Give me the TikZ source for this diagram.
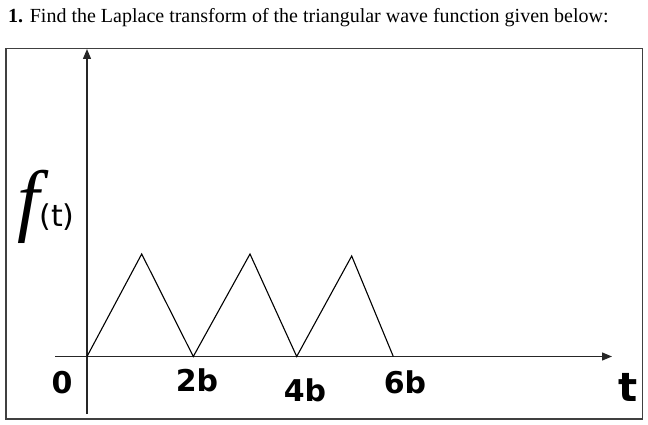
\documentclass[tikz,border=0pt]{standalone}
\usepackage{fontspec}
\setmainfont{Liberation Serif}
\newfontfamily\handfont{DejaVu Sans}
\usetikzlibrary{arrows.meta}
\begin{document}
\begin{tikzpicture}[x=1pt,y=-1pt,
  frame/.style={draw=black!75,line width=1.8pt},
  axis/.style={draw=black!85,line width=1.3pt,-{Triangle[length=10pt,width=8pt]}},
  wave/.style={draw=black,line width=1.1pt,line join=miter},
  hand/.style={font=\handfont\bfseries\fontsize{30}{30}\selectfont,inner sep=0pt}]
\useasboundingbox (0,0) rectangle (648,425);
\node[anchor=base west,inner sep=0pt,font=\fontsize{20}{20}\selectfont] (title) at (8,23) {\textbf{1.} Find the Laplace transform of the triangular wave function given below:};
\draw[frame] (6,48.5) rectangle (642.5,419);
% axes
\coordinate (ybot) at (87,414);
\coordinate (ytop) at (87,49);
\coordinate (xl) at (55,356.5);
\coordinate (xr) at (612,356.5);
\draw[axis] (ybot) -- (ytop);
\draw[axis] (xl) -- (xr);
% wave
\coordinate (w0) at (87,356.5);
\coordinate (p1) at (141.7,254);
\coordinate (w1) at (193.3,356.5);
\coordinate (p2) at (250,254);
\coordinate (w2) at (296.7,356.5);
\coordinate (p3) at (351.7,256);
\coordinate (w3) at (393.3,356.5);
\draw[wave] (w0) -- (p1) -- (w1) -- (p2) -- (w2) -- (p3) -- (w3);
% labels
\node[hand] (l0) at (62,383) {0};
\node[hand] (l2) at (197,380) {2b};
\node[hand] (l4) at (305,390) {4b};
\node[hand] (l6) at (405,382) {6b};
\node[hand,font=\handfont\bfseries\fontsize{40}{40}\selectfont] (lt) at (628,387) {t};
\node[inner sep=0pt] (lf) at (46,207) {{\fontsize{80}{80}\selectfont\itshape f}{\handfont\fontsize{30}{30}\selectfont(t)}};
\end{tikzpicture}
\end{document}
